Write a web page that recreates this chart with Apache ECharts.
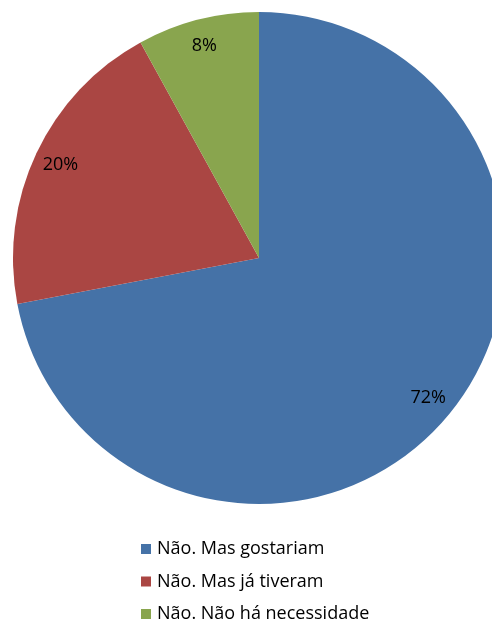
<!DOCTYPE html>
<html>
<head>
<meta charset="utf-8">
<script src="https://cdn.jsdelivr.net/npm/echarts@6/dist/echarts.min.js"></script>
<style>
  html, body { margin: 0; padding: 0; background: #fff; }
  #chart { width: 492px; height: 630px; }
</style>
</head>
<body>
<div id="chart"></div>
<script>
// Answer categories and their shares (%)
const categories = ['Não. Mas gostariam', 'Não. Mas já tiveram', 'Não. Não há necessidade'];
const shares = [72, 20, 8];
const colors = ['#4572A7', '#AA4643', '#89A54E'];

const chart = echarts.init(document.getElementById('chart'));
const pieData = categories.map((name, i) => ({ name, value: shares[i] }));

const center = [259, 258];
const R = 246;

chart.setOption({
  animation: false,
  color: colors,
  legend: {
    orient: 'vertical',
    left: 141,
    top: 538,
    height: 92,
    padding: 0,
    itemWidth: 10,
    itemHeight: 10,
    itemGap: 10.5,
    icon: 'rect',
    data: categories,
    textStyle: { fontFamily: 'Open Sans', fontSize: 18, color: '#000', lineHeight: 22, padding: [0, 0, 0, 1] }
  },
  series: [
    {
      type: 'pie',
      center: center,
      radius: [0, R],
      startAngle: 90,
      clockwise: true,
      data: pieData,
      label: { show: false },
      labelLine: { show: false },
      emphasis: { disabled: true },
      silent: true
    },
    {
      // transparent ring used only to place the percentage labels near the rim
      type: 'pie',
      center: center,
      radius: [R * 0.76, R],
      startAngle: 90,
      clockwise: true,
      data: pieData,
      itemStyle: { color: 'rgba(0,0,0,0)' },
      label: {
        show: true,
        position: 'inside',
        formatter: p => p.value + '%',
        fontFamily: 'Open Sans',
        fontSize: 18,
        color: '#000'
      },
      labelLine: { show: false },
      emphasis: { disabled: true },
      silent: true
    }
  ]
});
</script>
</body>
</html>
